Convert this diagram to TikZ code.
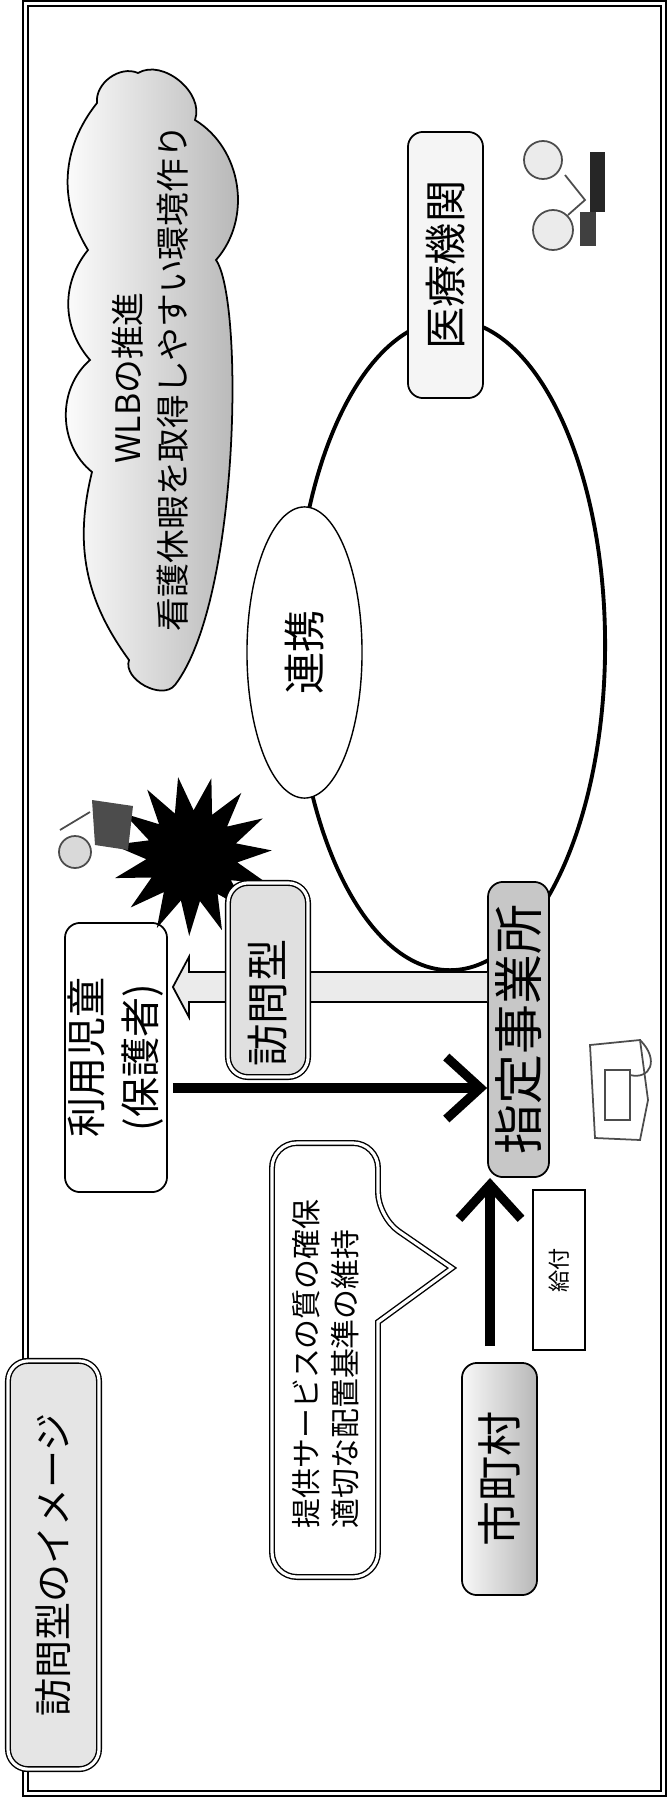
\documentclass[tikz,border=0pt]{standalone}
\usepackage{fontspec}
\setmainfont{Noto Sans CJK JP}
\usetikzlibrary{arrows.meta,calc,shapes.geometric}

\begin{document}
\begin{tikzpicture}[
  x=0.01cm, y=-0.01cm,
  namebox/.style={draw, rotate=90, inner sep=0pt, align=center, rounded corners=0.15cm, line width=0.5pt},
  headbox/.style={namebox, double, double distance=0.9pt, line width=0.4pt, rounded corners=0.2cm},
  bigarrow/.style={line width=2.6pt, -{Straight Barb[length=0.34cm,width=0.62cm]}},
  hollowarrow/.style={draw, line width=0.5pt, fill=black!8},
  cloudshape/.style={draw, line width=0.5pt, left color=white, middle color=white, right color=black!30},
  sketch/.style={draw=black!70, line width=0.5pt}
]
\useasboundingbox (0,0) rectangle (669,1797);

% outer frame
\draw[line width=0.45pt, double, double distance=1pt] (25.5,3.5) rectangle (663.5,1793.5);

% cloud with the WLB text
\draw[cloudshape] (97,103) to[bend left=60] (138,73) to[bend left=70] (195,120)
  to[bend left=50] (216,260) .. controls (244,300) and (240,600) .. (175,685)
  to[bend left=80] (129,660) to[bend left=25] (92,472) to[bend left=50] (90,360)
  to[bend left=40] (88,250) to[bend left=35] (97,103) -- cycle;
\node[rotate=90, align=center, font=\fontsize{9.6}{12.8}\selectfont] (wlb) at (150,378)
  {WLBの推進\\看護休暇を取得しやすい環境作り};

% cooperation ring
\node[draw, ellipse, line width=1.1pt, minimum width=3.1cm, minimum height=6.5cm, inner sep=0pt] (ring) at (450,645) {};
\node[draw, ellipse, fill=white, line width=0.4pt, rotate=90, minimum width=2.91cm, minimum height=1.15cm,
  inner sep=0pt, font=\fontsize{12}{14}\selectfont] (coop) at (304.5,652.5) {連携};

% boxes
\node[namebox, fill=black!4, minimum width=2.66cm, minimum height=0.75cm, font=\fontsize{12}{14}\selectfont] (medical) at (445.5,265) {医療機関};
\node[namebox, fill=white, minimum width=2.69cm, minimum height=1.02cm, font=\fontsize{11.4}{15.4}\selectfont] (child) at (116,1057.5) {利用児童\\(保護者)};
\node[namebox, fill=black!22, minimum width=2.95cm, minimum height=0.61cm, font=\fontsize{14.2}{16}\selectfont] (office) at (518.5,1029.5) {指定事業所};
\node[namebox, left color=black!3, right color=black!28, minimum width=2.32cm, minimum height=0.75cm, font=\fontsize{12.8}{15}\selectfont] (city) at (499.5,1479) {市町村};
\node[draw, rotate=90, fill=white, minimum width=1.6cm, minimum height=0.52cm, inner sep=0pt, line width=0.5pt,
  font=\fontsize{6.3}{8}\selectfont] (benefit) at (559,1270) {給付};

% burst and small pictures
\node[star, star points=15, star point ratio=1.75, fill=black, minimum size=1.6cm, inner sep=0pt, rotate=10] (burst) at (192,856) {};
\draw[sketch, fill=black!15] (75,852) circle[radius=16];
\fill[black!70] (92,800) -- (133,806) -- (128,850) -- (95,845) -- cycle;
\draw[sketch] (60,830) -- (90,812);
\draw[sketch, fill=black!8] (543,160) circle[radius=19];
\draw[sketch, fill=black!8] (553,230) circle[radius=20];
\fill[black!85] (590,152) rectangle (605,212);
\fill[black!75] (580,212) rectangle (596,246);
\draw[sketch] (565,175) -- (585,200) -- (568,215);
\draw[sketch] (590,1045) -- (640,1040) -- (648,1100) -- (640,1140) -- (595,1138) -- cycle;
\draw[sketch] (640,1040) .. controls (660,1060) and (650,1080) .. (630,1075);
\draw[sketch] (605,1070) rectangle (630,1120);

% visit arrow
\coordinate (vtip) at ($(child.south |- 0,987)+(5,0)$);
\coordinate (vstart) at (office.north |- 0,987);
\filldraw[hollowarrow] ($(vstart)+(0,-15)$) -- ($(vtip)+(16,-15)$) -- ($(vtip)+(16,-30)$) -- (vtip)
  -- ($(vtip)+(16,30)$) -- ($(vtip)+(16,15)$) -- ($(vstart)+(0,15)$);
\node[headbox, fill=black!12, minimum width=1.94cm, minimum height=0.80cm, font=\fontsize{12}{14}\selectfont] (visit) at (268,980) {訪問型\hspace*{0.46cm}};

% speech bubble
\draw[line width=0.4pt, double, double distance=0.9pt, fill=white, rounded corners=0.25cm]
  (272,1577) -- (272,1143) -- (378,1143) -- (378,1217) [sharp corners] -- (452,1268) -- (378,1322)
  [rounded corners=0.25cm] -- (378,1577) -- cycle;
\node[rotate=90, align=left, font=\fontsize{8.5}{11.1}\selectfont] (note) at (326,1364)
  {提供サービスの質の確保\\適切な配置基準の維持};

% arrows
\draw[bigarrow, shorten <=0.05cm] (child.south |- 0,1088) -- (office.north |- 0,1088);
\draw[bigarrow, shorten <=0.16cm] (city.east -| 490,0) -- (office.west -| 490,0);

% title
\node[headbox, fill=black!10, minimum width=4.08cm, minimum height=0.91cm, font=\fontsize{10.8}{13}\selectfont] (title) at (53.5,1565) {訪問型のイメージ};
\end{tikzpicture}
\end{document}
